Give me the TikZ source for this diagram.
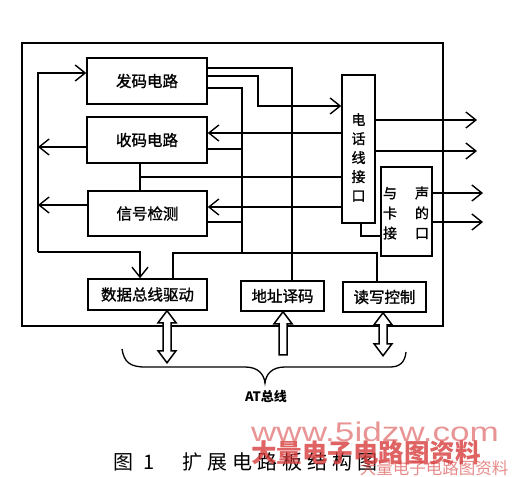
\documentclass[tikz,border=0pt]{standalone}
\usepackage{fontspec}
\newfontfamily\cjk{Noto Sans CJK SC}
\newfontfamily\cjkbf{Noto Sans CJK SC}[FakeBold=1.2]
\newfontfamily\cjkls{Noto Sans CJK SC}[LetterSpace=25]
\newfontfamily\wmfont{Liberation Sans}
\usetikzlibrary{arrows.meta}
\definecolor{wmred}{RGB}{215,60,60}
\begin{document}
\begin{tikzpicture}[x=1pt,y=-1pt,line width=1.5pt,
  box/.style={draw,line width=1.5pt,inner sep=0pt,font=\cjkbf\fontsize{15.5}{16}\selectfont},
  arr/.style={-{Straight Barb[length=10pt,width=16pt,line width=1.4pt]}},
  dbl/.style={draw,line width=1.5pt,fill=white,line join=miter},
  vtxt/.style={inner sep=0pt,align=center,font=\cjkbf\fontsize{14}{19}\selectfont},
]
\useasboundingbox (0,0) rectangle (513,476);
% frame
\node[draw,line width=1.5pt,minimum width=421pt,minimum height=283pt,inner sep=0pt] (frame) at (232.5,184.5) {};
% blocks
\node[box,minimum width=120pt,minimum height=46pt] (fa) at (147,81) {发码电路};
\node[box,minimum width=120pt,minimum height=46pt] (sh) at (147,140) {收码电路};
\node[box,minimum width=119pt,minimum height=45pt] (xj) at (147.5,213.5) {信号检测};
\node[box,minimum width=33pt,minimum height=148pt] (tel) at (358.5,149) {};
\node[vtxt] (teltxt) at (358.5,157.5) {电\\话\\线\\接\\口};
\node[box,minimum width=51pt,minimum height=89pt] (snd) at (406.5,211.5) {};
\node[vtxt,font=\cjkbf\fontsize{14}{20}\selectfont] (sndtxt) at (406,213) {与\hspace{18pt}声\\卡\hspace{18pt}的\\接\hspace{18pt}口};
\node[box,minimum width=119pt,minimum height=31pt] (bus) at (147.5,294.5) {数据总线驱动};
\node[box,minimum width=83pt,minimum height=30pt] (addr) at (282.5,296) {地址译码};
\node[box,minimum width=83pt,minimum height=30pt] (rw) at (384.5,297) {读写控制};
% coordinates
\coordinate (j1) at (292,68);
\coordinate (j2a) at (258,76);
\coordinate (j2b) at (258,106);
\coordinate (j3) at (242,88);
\coordinate (j3b) at (242,253);
\coordinate (j4) at (242,149);
\coordinate (j5) at (242,222);
\coordinate (j6) at (300,133);
\coordinate (j7) at (140,177);
\coordinate (j8) at (300,207);
\coordinate (j9) at (173,253);
\coordinate (j10) at (377,253);
\coordinate (l1) at (38,73);
\coordinate (l2) at (38,252);
\coordinate (l3) at (140,252);
\coordinate (l4) at (38,147);
\coordinate (l5) at (38,205);
\coordinate (o1) at (477,120);
\coordinate (o2) at (477,151);
\coordinate (o3) at (483,193);
\coordinate (o4) at (483,222);
\coordinate (t1) at (361,236);
\coordinate (da) at (167,0);
\coordinate (db) at (283,0);
\coordinate (dc) at (383,0);
% connectors
\draw (fa.east |- j1) -- (j1) -- (j1 |- addr.north);
\draw[arr] (fa.east |- j2a) -- (j2a) -- (j2b) -- (tel.west |- j2b);
\draw (fa.east |- j3) -- (j3) -- (j3b);
\draw (sh.east |- j4) -- (j4);
\draw (xj.east |- j5) -- (j5);
\draw[arr] (tel.west |- j6) -- (sh.east |- j6);
\draw (j7 |- sh.south) -- (j7 |- xj.north);
\draw (j7) -- (tel.west |- j7);
\draw[arr] (tel.west |- j8) -- (xj.east |- j8);
\draw (j9 |- bus.north) -- (j9) -- (j10) -- (j10 |- rw.north);
\draw[arr] (l2) -- (l1) -- (fa.west |- l1);
\draw[arr] (l2) -- (l3) -- (l3 |- bus.north);
\draw[arr] (sh.west |- l4) -- (l4);
\draw[arr] (xj.west |- l5) -- (l5);
\draw[arr] (tel.east |- o1) -- (o1);
\draw[arr] (tel.east |- o2) -- (o2);
\draw[arr] (snd.east |- o3) -- (o3);
\draw[arr] (snd.east |- o4) -- (o4);
\draw (t1 |- tel.south) -- (t1) -- (snd.west |- t1);
% bus double arrows
\draw[dbl] (bus.south -| da) -- ++(9,12) -- ++(-5,0) -- ++(0,28) -- ++(5,0) -- ++(-9,12) -- ++(-9,-12) -- ++(5,0) -- ++(0,-28) -- ++(-5,0) -- cycle;
\draw[dbl] (addr.south -| db) -- ++(9,12) -- ++(-5,0) -- ++(0,31) -- ++(-8,0) -- ++(0,-31) -- ++(-5,0) -- cycle;
\draw[dbl] (rw.south -| dc) -- ++(9,12) -- ++(-5,0) -- ++(0,19) -- ++(5,0) -- ++(-9,12) -- ++(-9,-12) -- ++(5,0) -- ++(0,-19) -- ++(-5,0) -- cycle;
% brace
\draw[line width=1.3pt] (122,349) .. controls (124,362) and (130,367) .. (145,367) -- (245,367) .. controls (258,367) and (264,374) .. (265,383) .. controls (266,374) and (272,367) .. (285,367) -- (390,367) .. controls (400,367) and (405,362) .. (406,352);
\node[inner sep=0pt,font=\cjk\bfseries\fontsize{13}{14}\selectfont] (atbus) at (266,397) {AT总线};
% caption
\node[inner sep=0pt,anchor=west,font=\cjk\fontsize{20}{22}\selectfont] (cap1) at (113,462) {图\hspace{10pt}1};
\node[inner sep=0pt,anchor=west,font=\cjkls\fontsize{20}{22}\selectfont] (cap2) at (182,462) {扩展电路板结构图};
% watermark
\node[inner sep=0pt,text=wmred,opacity=0.55,font=\wmfont\fontsize{27}{28}\selectfont,xscale=1.3] (wm1) at (375,432) {www.5idzw.com};
\node[inner sep=0pt,text=wmred,opacity=0.8,font=\cjk\bfseries\fontsize{25.5}{27}\selectfont] (wm2) at (366,453) {大量电子电路图资料};
\node[inner sep=0pt,text=wmred,opacity=0.6,font=\cjk\fontsize{16.5}{17}\selectfont] (wm3) at (434,468) {大量电子电路图资料};
\end{tikzpicture}
\end{document}
